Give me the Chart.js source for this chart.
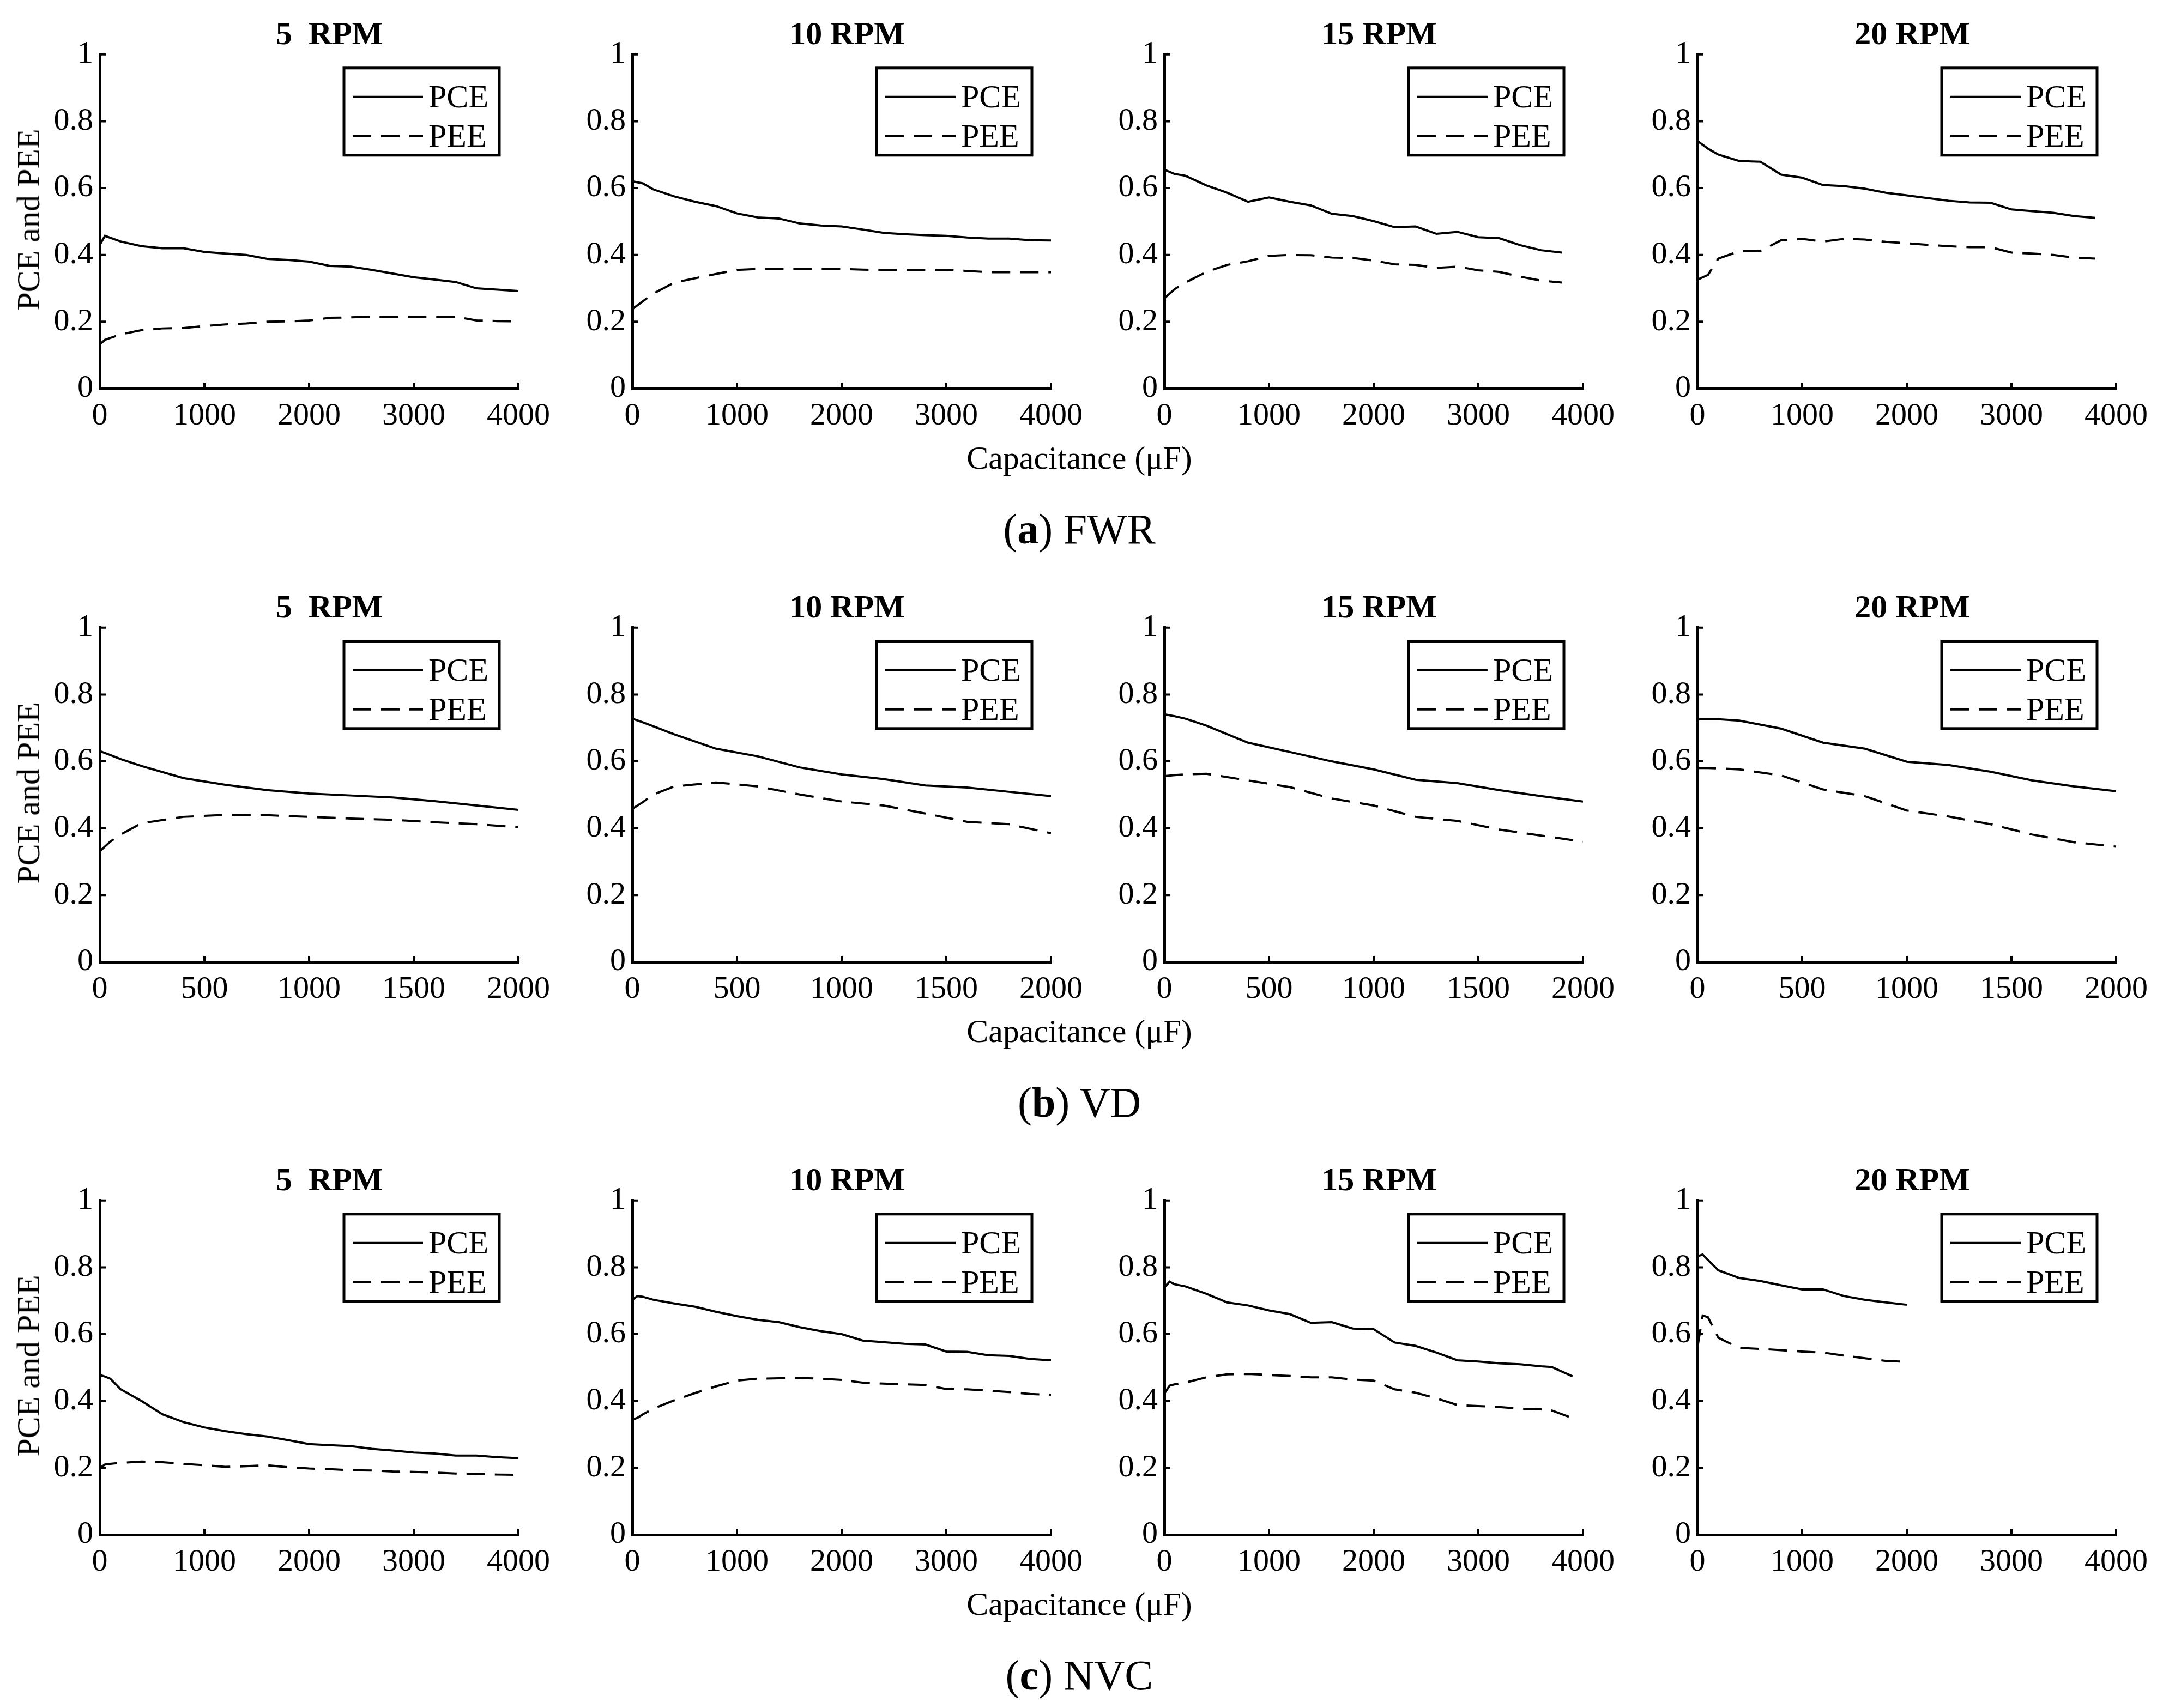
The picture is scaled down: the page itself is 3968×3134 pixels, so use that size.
<!DOCTYPE html>
<html>
<head>
<meta charset="utf-8">
<script src="https://cdn.jsdelivr.net/npm/chart.js@4.4.0/dist/chart.umd.min.js"></script>
<style>
    body { margin: 0; background: #fff; width: 3968px; height: 3134px; position: relative; overflow: hidden; font-family: "Liberation Serif", serif; color: #000; }
    canvas { position: absolute; }
    .txt { position: absolute; transform: translate(-50%, -50%); white-space: pre; line-height: 1; }
    .ttl { font-weight: bold; font-size: 60px; }
    .lbl { font-size: 60px; }
    .cap { font-size: 78px; }
    .ylab { font-size: 60px; transform: translate(-50%, -50%) rotate(-90deg); }
</style>
</head>
<body>
<script>

// ---- (a) FWR ----
var fwrCapLong = [0, 50, 200, 400, 600, 800, 1000, 1200, 1400, 1600, 1800, 2000, 2200, 2400, 2600, 2800, 3000, 3200, 3400, 3600, 3800, 4000];
var fwrCap = [0, 100, 200, 400, 600, 800, 1000, 1200, 1400, 1600, 1800, 2000, 2200, 2400, 2600, 2800, 3000, 3200, 3400, 3600, 3800, 4000];
var fwrCapShort = [0, 100, 200, 400, 600, 800, 1000, 1200, 1400, 1600, 1800, 2000, 2200, 2400, 2600, 2800, 3000, 3200, 3400, 3600, 3800];

var fwr5Pce = [0.43, 0.457, 0.44, 0.426, 0.42, 0.42, 0.409, 0.404, 0.40, 0.388, 0.385, 0.38, 0.367, 0.365, 0.355, 0.344, 0.333, 0.326, 0.319, 0.30, 0.296, 0.292];
var fwr5Pee = [0.132, 0.146, 0.162, 0.175, 0.18, 0.181, 0.187, 0.192, 0.195, 0.2, 0.201, 0.204, 0.212, 0.213, 0.215, 0.215, 0.215, 0.215, 0.215, 0.204, 0.202, 0.201];
var fwr10Pce = [0.62, 0.614, 0.596, 0.575, 0.559, 0.546, 0.524, 0.512, 0.509, 0.494, 0.488, 0.485, 0.476, 0.466, 0.462, 0.459, 0.457, 0.452, 0.449, 0.449, 0.444, 0.443];
var fwr10Pee = [0.238, 0.261, 0.284, 0.317, 0.33, 0.343, 0.355, 0.358, 0.358, 0.358, 0.358, 0.358, 0.356, 0.355, 0.355, 0.355, 0.355, 0.352, 0.348, 0.348, 0.348, 0.348];
var fwr15Pce = [0.655, 0.642, 0.637, 0.608, 0.586, 0.559, 0.572, 0.559, 0.548, 0.523, 0.516, 0.501, 0.483, 0.485, 0.463, 0.469, 0.453, 0.45, 0.429, 0.414, 0.407];
var fwr15Pee = [0.27, 0.298, 0.317, 0.349, 0.37, 0.381, 0.397, 0.4, 0.399, 0.392, 0.391, 0.383, 0.372, 0.37, 0.361, 0.365, 0.354, 0.349, 0.335, 0.323, 0.317];
var fwr20Pce = [0.741, 0.718, 0.7, 0.681, 0.679, 0.64, 0.631, 0.609, 0.606, 0.598, 0.586, 0.578, 0.57, 0.562, 0.557, 0.556, 0.536, 0.531, 0.526, 0.516, 0.511];
var fwr20Pee = [0.326, 0.34, 0.389, 0.411, 0.412, 0.444, 0.448, 0.44, 0.448, 0.446, 0.439, 0.435, 0.43, 0.426, 0.423, 0.423, 0.407, 0.404, 0.4, 0.392, 0.389];

// ---- (b) VD ----
var vdCap = [0, 50, 100, 200, 400, 600, 800, 1000, 1200, 1400, 1600, 1800, 2000];

var vd5Pce = [0.631, 0.619, 0.607, 0.586, 0.55, 0.53, 0.514, 0.504, 0.498, 0.492, 0.481, 0.468, 0.455];
var vd5Pee = [0.331, 0.36, 0.381, 0.415, 0.434, 0.44, 0.439, 0.434, 0.429, 0.425, 0.418, 0.412, 0.403];
var vd10Pce = [0.728, 0.717, 0.705, 0.681, 0.638, 0.615, 0.582, 0.561, 0.547, 0.528, 0.522, 0.509, 0.496];
var vd10Pee = [0.458, 0.478, 0.501, 0.525, 0.537, 0.525, 0.501, 0.48, 0.468, 0.444, 0.419, 0.412, 0.385];
var vd15Pce = [0.741, 0.735, 0.728, 0.707, 0.656, 0.628, 0.6, 0.576, 0.545, 0.535, 0.514, 0.496, 0.48];
var vd15Pee = [0.556, 0.559, 0.561, 0.563, 0.543, 0.523, 0.489, 0.468, 0.434, 0.422, 0.396, 0.378, 0.36];
var vd20Pce = [0.726, 0.726, 0.726, 0.722, 0.698, 0.656, 0.638, 0.599, 0.589, 0.569, 0.543, 0.525, 0.511];
var vd20Pee = [0.58, 0.58, 0.579, 0.576, 0.558, 0.516, 0.496, 0.453, 0.435, 0.412, 0.381, 0.358, 0.345];

// ---- (c) NVC ----
var nvcCap = [0, 50, 100, 200, 400, 600, 800, 1000, 1200, 1400, 1600, 1800, 2000, 2200, 2400, 2600, 2800, 3000, 3200, 3400, 3600, 3800, 4000];
var nvcCap15 = [0, 50, 100, 200, 400, 600, 800, 1000, 1200, 1400, 1600, 1800, 2000, 2200, 2400, 2600, 2800, 3000, 3200, 3400, 3600, 3700, 3900];
var nvcCap20 = [0, 50, 100, 200, 400, 600, 800, 1000, 1200, 1400, 1600, 1800, 2000];

var nvc5Pce = [0.478, 0.473, 0.467, 0.435, 0.4, 0.36, 0.337, 0.321, 0.31, 0.301, 0.294, 0.283, 0.271, 0.268, 0.265, 0.257, 0.252, 0.246, 0.243, 0.237, 0.237, 0.232, 0.229];
var nvc5Pee = [0.199, 0.21, 0.212, 0.215, 0.219, 0.217, 0.212, 0.208, 0.203, 0.205, 0.208, 0.202, 0.198, 0.196, 0.193, 0.192, 0.189, 0.188, 0.186, 0.183, 0.182, 0.18, 0.179];
var nvc10Pce = [0.703, 0.714, 0.712, 0.703, 0.692, 0.682, 0.667, 0.654, 0.643, 0.636, 0.621, 0.609, 0.6, 0.581, 0.576, 0.571, 0.569, 0.548, 0.547, 0.537, 0.535, 0.526, 0.522];
var nvc10Pee = [0.344, 0.35, 0.36, 0.377, 0.402, 0.424, 0.444, 0.461, 0.467, 0.468, 0.469, 0.467, 0.463, 0.455, 0.452, 0.45, 0.448, 0.436, 0.435, 0.431, 0.427, 0.421, 0.419];
var nvc15Pce = [0.74, 0.757, 0.749, 0.743, 0.721, 0.695, 0.686, 0.671, 0.66, 0.634, 0.636, 0.617, 0.615, 0.575, 0.565, 0.545, 0.522, 0.518, 0.513, 0.51, 0.504, 0.502, 0.474];
var nvc15Pee = [0.422, 0.446, 0.45, 0.455, 0.471, 0.48, 0.481, 0.478, 0.475, 0.471, 0.471, 0.464, 0.461, 0.435, 0.425, 0.408, 0.388, 0.385, 0.382, 0.377, 0.375, 0.372, 0.349];
var nvc20Pce = [0.833, 0.838, 0.822, 0.791, 0.768, 0.759, 0.746, 0.734, 0.734, 0.714, 0.703, 0.695, 0.688];
var nvc20Pee = [0.561, 0.656, 0.651, 0.589, 0.559, 0.556, 0.552, 0.548, 0.545, 0.536, 0.528, 0.52, 0.517];

var rpmTitles = ["5  RPM", "10 RPM", "15 RPM", "20 RPM"];
var yTicks = [0, 0.2, 0.4, 0.6, 0.8, 1];
var captions = ["(<b>a</b>) FWR", "(<b>b</b>) VD", "(<b>c</b>) NVC"];
var xLabel = "Capacitance (\u03bcF)";
var yLabel = "PCE and PEE";

var panels = [
    [{x: fwrCapLong, pce: fwr5Pce, pee: fwr5Pee, max: 4000}, {x: fwrCap, pce: fwr10Pce, pee: fwr10Pee, max: 4000},
     {x: fwrCapShort, pce: fwr15Pce, pee: fwr15Pee, max: 4000}, {x: fwrCapShort, pce: fwr20Pce, pee: fwr20Pee, max: 4000}],
    [{x: vdCap, pce: vd5Pce, pee: vd5Pee, max: 2000}, {x: vdCap, pce: vd10Pce, pee: vd10Pee, max: 2000},
     {x: vdCap, pce: vd15Pce, pee: vd15Pee, max: 2000}, {x: vdCap, pce: vd20Pce, pee: vd20Pee, max: 2000}],
    [{x: nvcCap, pce: nvc5Pce, pee: nvc5Pee, max: 4000}, {x: nvcCap, pce: nvc10Pce, pee: nvc10Pee, max: 4000},
     {x: nvcCap15, pce: nvc15Pce, pee: nvc15Pee, max: 4000}, {x: nvcCap20, pce: nvc20Pce, pee: nvc20Pee, max: 4000}]
];

// layout (page pixels)
var plotLeft = [183, 1160, 2136, 3114];
var plotTop = [93, 1145, 2196];
var plotW = 772, plotH = 620;
var padLeft = 140, padTop = 40, padRight = 70, padBottom = 90;
var titleShift = [35, 8, 8, 8];

var fontFam = '"Liberation Serif", "Times New Roman", serif';

// inward tick marks + boxed legend like the matlab figure
var frame = {
    id: 'frame',
    afterDraw: function (chart) {
        var ctx = chart.ctx, a = chart.chartArea;
        var xs = chart.scales.x, ys = chart.scales.y;
        ctx.save();
        ctx.strokeStyle = '#000';
        ctx.lineWidth = 4;
        ctx.beginPath();
        xs.ticks.forEach(function (t) {
            var px = xs.getPixelForValue(t.value);
            ctx.moveTo(px, a.bottom);
            ctx.lineTo(px, a.bottom - 11);
        });
        ys.ticks.forEach(function (t) {
            var py = ys.getPixelForValue(t.value);
            ctx.moveTo(a.left, py);
            ctx.lineTo(a.left + 11, py);
        });
        ctx.stroke();

        var bw = 285, bh = 160;
        var bx = a.right - 35 - bw, by = a.top + 25;
        ctx.fillStyle = '#fff';
        ctx.fillRect(bx, by, bw, bh);
        ctx.lineWidth = 5;
        ctx.strokeRect(bx, by, bw, bh);

        ctx.font = '60px ' + fontFam;
        ctx.textBaseline = 'middle';
        chart.data.datasets.forEach(function (ds, i) {
            var ly = by + 53 + i * 72;
            ctx.setLineDash(ds.borderDash || []);
            ctx.lineWidth = ds.borderWidth;
            ctx.beginPath();
            ctx.moveTo(bx + 16, ly);
            ctx.lineTo(bx + 145, ly);
            ctx.stroke();
            ctx.setLineDash([]);
            ctx.fillStyle = '#000';
            ctx.fillText(ds.label, bx + 155, ly + 3);
        });
        ctx.restore();
    }
};

function addText(cls, html, cx, cy) {
    var d = document.createElement('div');
    d.className = 'txt ' + cls;
    d.innerHTML = html;
    d.style.left = cx + 'px';
    d.style.top = cy + 'px';
    document.body.appendChild(d);
}

function toPoints(xs, ys) {
    return ys.map(function (v, i) {
        return {x: xs[i], y: v};
    });
}

function makePanel(row, col) {
    var p = panels[row][col];
    var cv = document.createElement('canvas');
    cv.width = padLeft + plotW + padRight;
    cv.height = padTop + plotH + padBottom;
    cv.style.left = (plotLeft[col] - padLeft) + 'px';
    cv.style.top = (plotTop[row] - padTop) + 'px';
    document.body.appendChild(cv);

    var tickFont = {family: fontFam, size: 58};

    new Chart(cv, {
        type: 'line',
        data: {
            datasets: [
                {label: 'PCE', data: toPoints(p.x, p.pce), borderColor: '#000', borderWidth: 4, pointRadius: 0, tension: 0, fill: false},
                {label: 'PEE', data: toPoints(p.x, p.pee), borderColor: '#000', borderWidth: 4, borderDash: [34, 18], pointRadius: 0, tension: 0, fill: false}
            ]
        },
        options: {
            responsive: false,
            animation: false,
            devicePixelRatio: 1,
            layout: {autoPadding: false, padding: {left: 0, top: padTop, right: padRight, bottom: 0}},
            plugins: {legend: {display: false}, title: {display: false}, tooltip: {enabled: false}},
            scales: {
                x: {
                    type: 'linear', min: 0, max: p.max,
                    ticks: {stepSize: p.max / 4, font: tickFont, color: '#000', padding: 16, maxRotation: 0, autoSkip: false,
                        callback: function (v) { return String(v); }},
                    grid: {display: false, drawTicks: false},
                    border: {display: true, color: '#000', width: 5},
                    afterFit: function (s) { s.height = padBottom; }
                },
                y: {
                    min: 0, max: 1,
                    afterBuildTicks: function (s) {
                        s.ticks = yTicks.map(function (v) { return {value: v}; });
                    },
                    ticks: {font: tickFont, color: '#000', padding: 12,
                        callback: function (v) { return String(Math.round(v * 10) / 10); }},
                    grid: {display: false, drawTicks: false},
                    border: {display: true, color: '#000', width: 5},
                    afterFit: function (s) { s.width = padLeft; }
                }
            }
        },
        plugins: [frame]
    });

    addText('ttl', rpmTitles[col], plotLeft[col] + plotW / 2 + titleShift[col], plotTop[row] - 32);
}

function drawAll() {
    for (var r = 0; r < 3; r++) {
        for (var c = 0; c < 4; c++) {
            makePanel(r, c);
        }
        var bottom = plotTop[r] + plotH;
        addText('ylab', yLabel, 52, plotTop[r] + plotH / 2);
        addText('lbl', xLabel, 1980, bottom + 127);
        addText('cap', captions[r], 1980, bottom + 258);
    }
}

// make sure the serif face is ready before the canvases draw text
if (document.fonts && document.fonts.load) {
    document.fonts.load('60px "Liberation Serif"').then(drawAll, drawAll);
} else {
    drawAll();
}

</script>
</body>
</html>
